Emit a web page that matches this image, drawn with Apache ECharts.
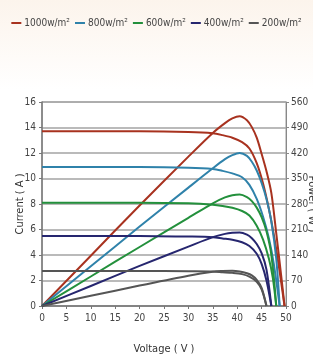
<!DOCTYPE html>
<html>
<head>
<meta charset="utf-8">
<script src="https://cdn.jsdelivr.net/npm/echarts@6/dist/echarts.min.js"></script>
<style>
  html, body { margin: 0; padding: 0; background: #fff; }
  #chart { width: 313px; height: 359px; }
</style>
</head>
<body>
<div id="chart"></div>
<script>
// irradiance levels (legend)
var levels = ['1000w/m²', '800w/m²', '600w/m²', '400w/m²', '200w/m²'];
var colors = ['#a8321f', '#2f82aa', '#23903c', '#26266f', '#555555'];

// x axis / y axes ticks
var voltTicks = [0, 50, 5];
var ampTicks = [0, 16, 2];
var wattTicks = [0, 560, 70];

// I-V curves (voltage V, current A)
var ivV1000 = [0, 20, 30, 35, 37, 39, 41, 42.5, 44, 45.3, 46.5, 47.5, 48.5, 49.7];
var ivA1000 = [13.7, 13.7, 13.65, 13.55, 13.4, 13.2, 12.85, 12.35, 11.2, 9.6, 7.6, 5.6, 3.2, 0];
var ivV800 = [0, 20, 30, 35, 37, 39, 41, 42.5, 44, 45.3, 46.5, 47.5, 48.7];
var ivA800 = [10.9, 10.9, 10.85, 10.75, 10.6, 10.4, 10.1, 9.5, 8.4, 7.0, 5.3, 3.3, 0];
var ivV600 = [0, 20, 30, 35, 37, 39, 41, 42.5, 44, 45.3, 46.5, 47.3, 48];
var ivA600 = [8.1, 8.1, 8.05, 7.95, 7.85, 7.7, 7.45, 7.1, 6.3, 5.2, 3.7, 2.2, 0];
var ivV400 = [0, 20, 30, 35, 37, 39, 41, 42.5, 44, 45, 46, 47];
var ivA400 = [5.5, 5.5, 5.45, 5.4, 5.3, 5.2, 5.0, 4.7, 4.1, 3.3, 2.0, 0];
var ivV200 = [0, 20, 30, 35, 37, 39, 41, 42.5, 44, 45, 46];
var ivA200 = [2.75, 2.75, 2.72, 2.7, 2.65, 2.6, 2.5, 2.3, 1.9, 1.3, 0];

// P-V curves (voltage V, power W)
var pwV1000 = [0, 10, 20, 30, 35, 37.5, 39, 40.5, 42, 43, 44, 45, 46, 47, 48, 49, 49.7];
var pwW1000 = [0, 138, 276, 410, 475, 502, 515, 521, 510, 491, 462, 418, 370, 310, 200, 85, 0];
var pwV800 = [0, 10, 20, 30, 35, 37.5, 39, 40.5, 42, 43, 44, 45, 46, 47, 48, 48.7];
var pwW800 = [0, 109, 218, 325, 378, 403, 414, 420, 412, 396, 372, 338, 294, 232, 130, 0];
var pwV600 = [0, 10, 20, 30, 35, 37.5, 39, 40.5, 42, 43, 44, 45, 46, 47, 48];
var pwW600 = [0, 81, 162, 242, 282, 298, 304, 306, 299, 288, 270, 244, 205, 140, 0];
var pwV400 = [0, 10, 20, 30, 35, 37.5, 39, 40.5, 42, 43, 44, 45, 46, 47];
var pwW400 = [0, 55, 110, 163, 189, 198, 201, 202, 196, 186, 170, 145, 100, 0];
var pwV200 = [0, 10, 20, 30, 35, 37, 39, 40.5, 42, 43, 44, 45, 46];
var pwW200 = [0, 28, 56, 83, 94, 96, 97, 95, 90, 84, 72, 50, 0];

var ivCurves = [[ivV1000, ivA1000], [ivV800, ivA800], [ivV600, ivA600], [ivV400, ivA400], [ivV200, ivA200]];
var pwCurves = [[pwV1000, pwW1000], [pwV800, pwW800], [pwV600, pwW600], [pwV400, pwW400], [pwV200, pwW200]];

function pairs(xs, ys) {
  return xs.map(function (x, i) { return [x, ys[i]]; });
}

var font = "'DejaVu Sans Condensed', 'Liberation Sans Narrow', sans-serif";
var series = [];
levels.forEach(function (name, i) {
  var common = {
    name: name,
    type: 'line',
    symbol: 'none',
    smooth: 0.3,
    lineStyle: { width: 2, color: colors[i] },
    itemStyle: { color: colors[i] }
  };
  series.push(Object.assign({}, common, { yAxisIndex: 0, data: pairs(ivCurves[i][0], ivCurves[i][1]) }));
  series.push(Object.assign({}, common, { yAxisIndex: 1, data: pairs(pwCurves[i][0], pwCurves[i][1]) }));
});

var chart = echarts.init(document.getElementById('chart'));
chart.setOption({
  backgroundColor: {
    type: 'linear', x: 0, y: 0, x2: 0, y2: 1,
    colorStops: [{ offset: 0, color: '#fcf4ec' }, { offset: 0.25, color: '#ffffff' }, { offset: 1, color: '#ffffff' }]
  },
  animation: false,
  color: colors,
  legend: {
    data: levels,
    top: 13,
    left: 'center',
    icon: 'rect',
    itemWidth: 10,
    itemHeight: 2,
    itemGap: 5,
    textStyle: { fontFamily: font, fontSize: 10, color: '#444', padding: [0, 0, 0, -2] }
  },
  grid: {
    left: 42, right: 27, top: 102, bottom: 53,
    outerBoundsMode: 'none',
    containLabel: false,
    show: true, borderColor: '#9a9a9a', borderWidth: 1, backgroundColor: '#fff'
  },
  xAxis: {
    type: 'value',
    min: voltTicks[0], max: voltTicks[1], interval: voltTicks[2],
    name: 'Voltage ( V )',
    nameLocation: 'middle',
    nameGap: 38,
    nameTextStyle: { fontFamily: font, fontSize: 11, color: '#333' },
    axisLine: { lineStyle: { color: '#777', width: 1.5 } },
    axisTick: { show: true, length: 3, lineStyle: { color: '#777' } },
    axisLabel: { fontFamily: font, fontSize: 10, color: '#444', margin: 7 },
    splitLine: { show: false }
  },
  yAxis: [{
    type: 'value',
    min: ampTicks[0], max: ampTicks[1], interval: ampTicks[2],
    name: 'Current ( A )',
    nameLocation: 'middle',
    nameGap: 16,
    nameMoveOverlap: false,
    nameTextStyle: { fontFamily: font, fontSize: 11, color: '#333' },
    axisLine: { show: true, lineStyle: { color: '#777', width: 1.5 } },
    axisTick: { show: true, length: 3, lineStyle: { color: '#777' } },
    axisLabel: { fontFamily: font, fontSize: 10, color: '#444', margin: 6 },
    splitLine: { show: true, lineStyle: { color: '#a3a3a3', width: 1.5 } }
  }, {
    type: 'value',
    position: 'right',
    min: wattTicks[0], max: wattTicks[1], interval: wattTicks[2],
    name: 'Power ( W )',
    nameLocation: 'middle',
    nameRotate: -90,
    nameGap: 20,
    nameMoveOverlap: false,
    nameTextStyle: { fontFamily: font, fontSize: 11, color: '#333' },
    axisLine: { show: true, lineStyle: { color: '#888', width: 1 } },
    axisTick: { show: true, length: 3, lineStyle: { color: '#888' } },
    axisLabel: { fontFamily: font, fontSize: 10, color: '#444', margin: 5 },
    splitLine: { show: false }
  }],
  series: series
});
</script>
</body>
</html>
